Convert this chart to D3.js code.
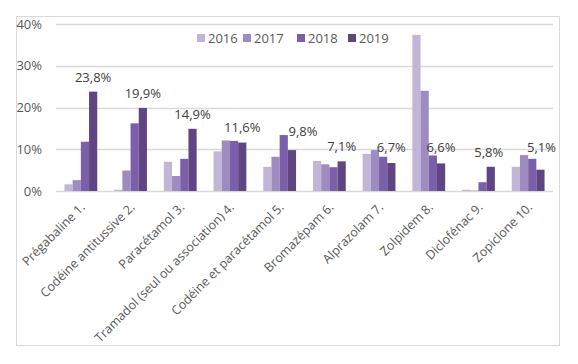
<!DOCTYPE html>
<html><head><meta charset="utf-8">
<script src="https://cdn.jsdelivr.net/npm/d3@7"></script>
<style>body{margin:0;background:#fff}svg{display:block}text{font-family:"Open Sans",sans-serif}</style>
</head><body><svg id="c" width="578" height="364"></svg>
<script>
const categories = ["Prégabaline 1.","Codéine antitussive 2.","Paracétamol 3.","Tramadol (seul ou association) 4.","Codéine et paracétamol 5.","Bromazépam 6.","Alprazolam 7.","Zolpidem 8.","Diclofénac 9.","Zopiclone 10."];
const years = ["2016","2017","2018","2019"];
const v2016 = [1.6,0.3,7.0,9.5,5.8,7.2,8.9,37.4,0.3,5.8];
const v2017 = [2.6,4.9,3.6,12.1,8.2,6.4,9.8,24.0,0.1,8.6];
const v2018 = [11.8,16.2,7.7,12.0,13.4,5.7,8.2,8.5,2.1,7.7];
const v2019 = [23.8,19.9,14.9,11.6,9.8,7.1,6.7,6.6,5.8,5.1];
const yTicks = [0,10,20,30,40];
const colors = ["#c2b6d8","#9e8bc0","#7b5fa8","#5f4682"];

// label placement nudges (drawing style, not data)
const labelDx = [0,0,0,0,11,0,0,0,-2,1];
const labelDy = [-10,-10,-10,-11,-14,-10,-11,-11,-10,-18];

const series = [v2016,v2017,v2018,v2019];
const svg = d3.select("#c");
svg.append("rect").attr("x",16.5).attr("y",16.5).attr("width",543).attr("height",329)
  .attr("fill","#fff").attr("stroke","#d9d9d9");

const x = d3.scaleBand().domain(categories).range([56,553]).paddingInner(0.34).paddingOuter(0.17);
const xs = d3.scaleBand().domain(years).range([0,x.bandwidth()]);
const y = d3.scaleLinear().domain([0,40]).range([191,24]);

const gy = svg.append("g");
gy.selectAll("line").data(yTicks).join("line")
  .attr("x1",56).attr("x2",553).attr("y1",d=>Math.round(y(d))+0.5).attr("y2",d=>Math.round(y(d))+0.5)
  .attr("stroke","#d9d9d9").attr("stroke-width",1.3);
gy.selectAll("text").data(yTicks).join("text")
  .attr("x",42).attr("y",d=>y(d)).attr("dy","0.35em").attr("text-anchor","end")
  .attr("font-size",13).attr("fill","#595959").text(d=>d+"%");

const groups = svg.append("g").selectAll("g").data(categories).join("g")
  .attr("transform",d=>`translate(${x(d)},0)`);
groups.selectAll("rect").data((d,i)=>years.map((yr,j)=>({yr,v:series[j][i],j}))).join("rect")
  .attr("x",d=>xs(d.yr)).attr("width",xs.bandwidth())
  .attr("y",d=>y(d.v)).attr("height",d=>y(0)-y(d.v)).attr("fill",d=>colors[d.j]);
groups.append("text")
  .attr("x",(d,i)=>xs("2019")+xs.bandwidth()/2+labelDx[i]).attr("y",(d,i)=>y(v2019[i])+labelDy[i])
  .attr("text-anchor","middle").attr("font-size",13).attr("fill","#404040")
  .text((d,i)=>v2019[i].toFixed(1).replace(".",",")+"%");

svg.append("g").selectAll("text").data(categories).join("text")
  .attr("transform",d=>`translate(${x(d)+x.bandwidth()/2+5},${208}) rotate(-45)`)
  .attr("text-anchor","end").attr("font-size",12.5).attr("fill","#595959").text(d=>d);

const legX = [197,243,297,348];
const leg = svg.append("g").selectAll("g").data(years).join("g")
  .attr("transform",(d,i)=>`translate(${legX[i]},38)`);
leg.append("rect").attr("x",0).attr("y",-4).attr("width",8).attr("height",8).attr("fill",(d,i)=>colors[i]);
leg.append("text").attr("x",11).attr("dy","0.35em").attr("font-size",13).attr("fill","#595959").text(d=>d);
</script></body></html>
